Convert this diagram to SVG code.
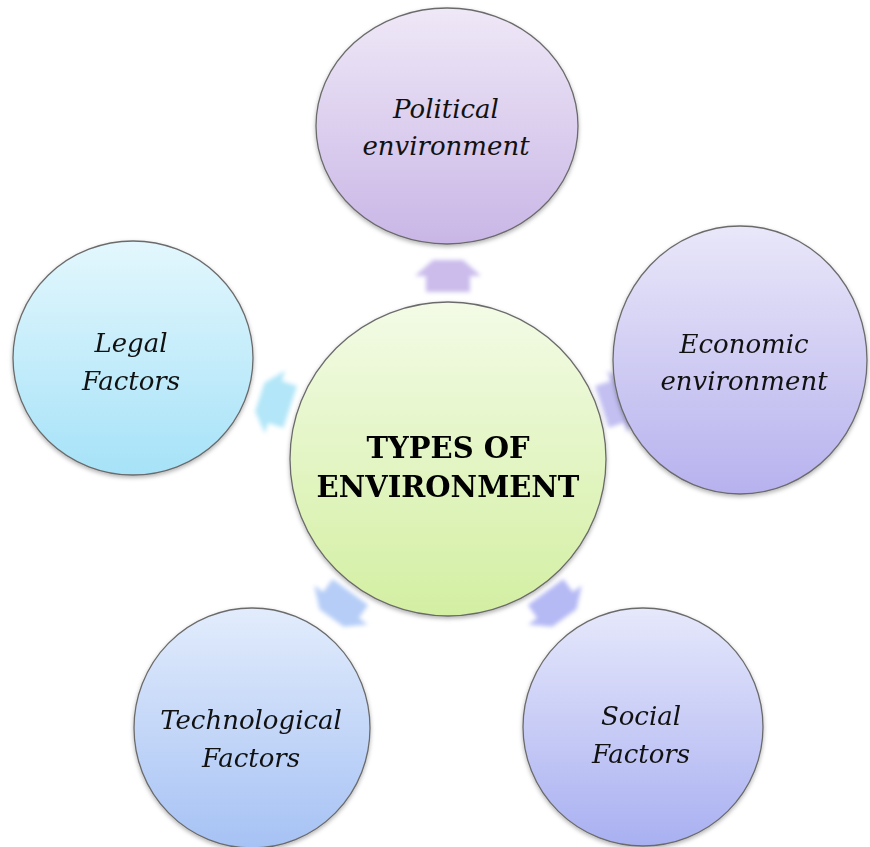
<svg xmlns="http://www.w3.org/2000/svg" width="870" height="847" viewBox="0 0 870 847">
  <defs>
    <style>
      .node { stroke: #6b6b6b; stroke-width: 1.3; filter: url(#shadow); }
      .label { font-family: "DejaVu Serif", "Liberation Serif", serif; font-style: italic; font-size: 26px; fill: #111; text-anchor: middle; }
      .title { font-family: "DejaVu Serif", "Liberation Serif", serif; font-weight: bold; font-size: 29px; fill: #000; text-anchor: middle; }
      .arrow { filter: url(#soft); }
    </style>
    <filter id="shadow" x="-10%" y="-10%" width="120%" height="125%">
      <feDropShadow dx="0" dy="2" stdDeviation="2" flood-color="#000" flood-opacity="0.3"/>
    </filter>
    <filter id="soft" x="-30%" y="-30%" width="160%" height="160%">
      <feGaussianBlur stdDeviation="2.2"/>
    </filter>
    <linearGradient id="gPolitical" x1="0" y1="0" x2="0" y2="1">
      <stop offset="0" stop-color="#efe8f7"/>
      <stop offset="1" stop-color="#c9b6e6"/>
    </linearGradient>
    <linearGradient id="gEconomic" x1="0" y1="0" x2="0" y2="1">
      <stop offset="0" stop-color="#e9e7f9"/>
      <stop offset="1" stop-color="#b7b2ee"/>
    </linearGradient>
    <linearGradient id="gSocial" x1="0" y1="0" x2="0" y2="1">
      <stop offset="0" stop-color="#e6e8fb"/>
      <stop offset="1" stop-color="#a9b0f1"/>
    </linearGradient>
    <linearGradient id="gTech" x1="0" y1="0" x2="0" y2="1">
      <stop offset="0" stop-color="#e2ecfc"/>
      <stop offset="1" stop-color="#a6c2f4"/>
    </linearGradient>
    <linearGradient id="gLegal" x1="0" y1="0" x2="0" y2="1">
      <stop offset="0" stop-color="#e3f7fd"/>
      <stop offset="1" stop-color="#a6e2f8"/>
    </linearGradient>
    <linearGradient id="gCenter" x1="0" y1="0" x2="0" y2="1">
      <stop offset="0" stop-color="#f3fbe6"/>
      <stop offset="1" stop-color="#d3efa2"/>
    </linearGradient>
    <!-- block arrow pointing along +x, centred on the origin -->
    <path id="blockArrow" d="M-16,-22 L0,-22 L0,-33 L16,-15 L16,15 L0,33 L0,22 L-16,22 Z"/>
  </defs>

  <rect width="870" height="847" fill="#ffffff"/>

  <!-- connectors: soft block arrows radiating from the centre -->
  <g id="connectors" class="arrow">
    <use href="#blockArrow" fill="#cbbcec" transform="translate(448,276) rotate(-90)"/>
    <use href="#blockArrow" fill="#c3c0f1" transform="translate(617,402) rotate(-18)"/>
    <use href="#blockArrow" fill="#b5b9f4" transform="translate(555,605) rotate(54)"/>
    <use href="#blockArrow" fill="#b6cdf7" transform="translate(341,605) rotate(126)"/>
    <use href="#blockArrow" fill="#b2e6f8" transform="translate(275,402) rotate(198)"/>
  </g>

  <g id="political">
    <ellipse class="node" cx="447" cy="126" rx="131" ry="118" fill="url(#gPolitical)"/>
    <text class="label" x="446" y="118">Political</text>
    <text class="label" x="446" y="155">environment</text>
  </g>

  <g id="economic">
    <ellipse class="node" cx="740" cy="360" rx="127" ry="134" fill="url(#gEconomic)"/>
    <text class="label" x="744" y="353">Economic</text>
    <text class="label" x="744" y="390">environment</text>
  </g>

  <g id="legal">
    <ellipse class="node" cx="133" cy="358" rx="120" ry="117" fill="url(#gLegal)"/>
    <text class="label" x="131" y="352">Legal</text>
    <text class="label" x="131" y="390">Factors</text>
  </g>

  <g id="technological">
    <ellipse class="node" cx="252" cy="728" rx="118" ry="120" fill="url(#gTech)"/>
    <text class="label" x="251" y="729">Technological</text>
    <text class="label" x="251" y="767">Factors</text>
  </g>

  <g id="social">
    <ellipse class="node" cx="643" cy="727" rx="120" ry="119" fill="url(#gSocial)"/>
    <text class="label" x="641" y="725">Social</text>
    <text class="label" x="641" y="763">Factors</text>
  </g>

  <g id="center">
    <ellipse class="node" cx="448" cy="459" rx="158" ry="157" fill="url(#gCenter)"/>
    <text class="title" x="448" y="458">TYPES OF</text>
    <text class="title" x="448" y="497">ENVIRONMENT</text>
  </g>
</svg>
